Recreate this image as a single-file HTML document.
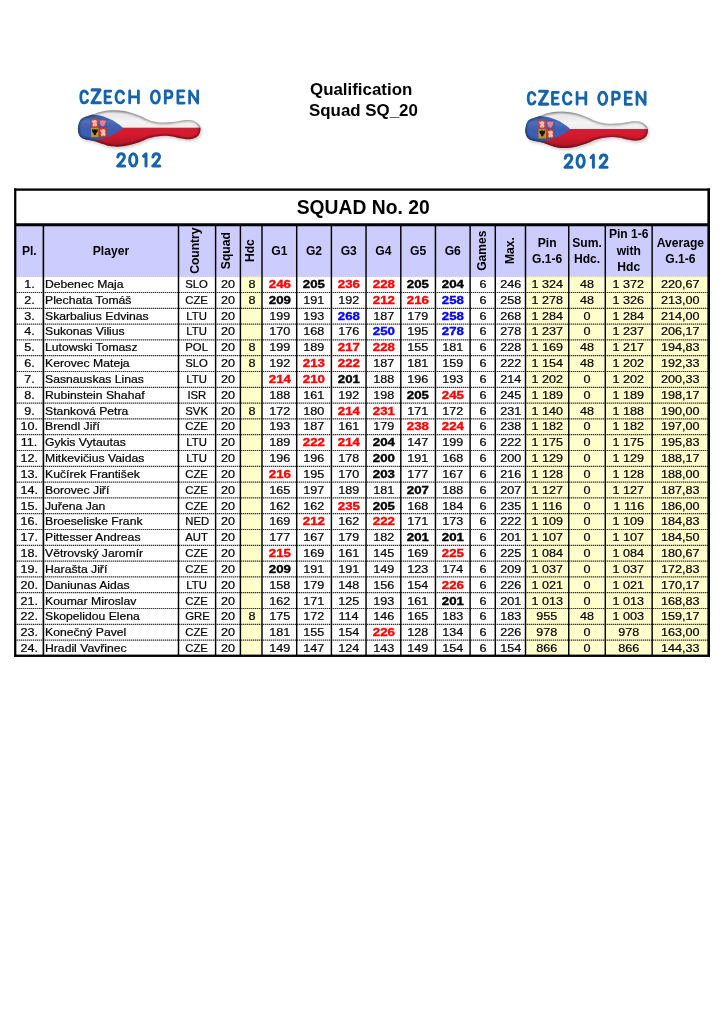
<!DOCTYPE html>
<html><head><meta charset="utf-8"><title>Qualification Squad SQ_20</title>
<style>
html,body{margin:0;padding:0;background:#fff;}
body{width:724px;height:1024px;position:relative;overflow:hidden;font-family:"Liberation Sans",sans-serif;color:#000;}
.abs{position:absolute;}
.c{position:absolute;text-align:center;white-space:nowrap;font-size:10.6px;height:15.8px;line-height:15.8px;overflow:visible;}
.c span{display:inline-block;transform:scaleX(1.19);transform-origin:50% 50%;}
.c.l{text-align:left;}
.c.l span{transform-origin:0 50%;}
.c.n span{transform:scaleX(1.15);}
.c.t span{transform:scaleX(1.07);}
.c span{-webkit-text-stroke:0.2px currentColor;}
.c.b span{font-weight:bold;transform:scaleX(1.25);-webkit-text-stroke:0.35px currentColor;}
.c.r span{color:#ff0000;}
.c.u span{color:#0000ff;}
.h{position:absolute;text-align:center;font-weight:bold;font-size:12.1px;line-height:16.5px;white-space:nowrap;display:flex;align-items:center;justify-content:center;}
.h .rot{display:inline-block;}
.bg{position:absolute;}
#title{position:absolute;left:16.2px;width:694px;top:190.5px;height:34px;line-height:34px;text-align:center;font-weight:bold;font-size:19.3px;white-space:nowrap;}
#q{position:absolute;left:310px;top:78.5px;font-weight:bold;font-size:16.9px;line-height:21.6px;white-space:nowrap;}
#q div{position:relative;}
#wrap{position:absolute;left:0;top:0;width:724px;height:1024px;will-change:transform;}
svg{position:absolute;left:0;top:0;}
</style></head><body><div id="wrap">

<svg width="724" height="1024" viewBox="0 0 724 1024">
<rect x="15.20" y="224.75" width="693.50" height="51.70" fill="#ccccff"/>
<rect x="240.40" y="276.45" width="21.60" height="379.45" fill="#ffffcc"/>
<rect x="525.50" y="276.45" width="183.20" height="379.45" fill="#ffffcc"/>
</svg>
<div id="q"><div>Qualification</div><div style="left:-1px">Squad SQ_20</div></div>
<div id="title">SQUAD No. 20</div>
<div class="h" style="left:15.20px;width:28.20px;top:225.75px;height:50.95px"><span>Pl.</span></div>
<div class="h" style="left:43.40px;width:135.10px;top:225.75px;height:50.95px"><span>Player</span></div>
<div class="h" style="left:178.50px;width:37.10px;top:225.75px;height:50.95px"><span class="rot" style="transform:translate(-1.8px,-0.6px) rotate(-90deg)">Country</span></div>
<div class="h" style="left:215.60px;width:24.80px;top:225.75px;height:50.95px"><span class="rot" style="transform:translate(-2.0px,-0.6px) rotate(-90deg)">Squad</span></div>
<div class="h" style="left:240.40px;width:21.60px;top:225.75px;height:50.95px"><span class="rot" style="transform:translate(-0.8px,-0.6px) rotate(-90deg)">Hdc</span></div>
<div class="h" style="left:262.00px;width:34.70px;top:225.75px;height:50.95px"><span>G1</span></div>
<div class="h" style="left:296.70px;width:34.70px;top:225.75px;height:50.95px"><span>G2</span></div>
<div class="h" style="left:331.40px;width:34.65px;top:225.75px;height:50.95px"><span>G3</span></div>
<div class="h" style="left:366.05px;width:34.75px;top:225.75px;height:50.95px"><span>G4</span></div>
<div class="h" style="left:400.80px;width:34.65px;top:225.75px;height:50.95px"><span>G5</span></div>
<div class="h" style="left:435.45px;width:34.65px;top:225.75px;height:50.95px"><span>G6</span></div>
<div class="h" style="left:470.10px;width:25.20px;top:225.75px;height:50.95px"><span class="rot" style="transform:translate(-0.8px,-0.6px) rotate(-90deg)">Games</span></div>
<div class="h" style="left:495.30px;width:30.20px;top:225.75px;height:50.95px"><span class="rot" style="transform:translate(-0.3px,-0.6px) rotate(-90deg)">Max.</span></div>
<div class="h" style="left:525.50px;width:43.25px;top:225.75px;height:50.95px"><span>Pin<br>G.1-6</span></div>
<div class="h" style="left:568.75px;width:36.55px;top:225.75px;height:50.95px"><span>Sum.<br>Hdc.</span></div>
<div class="h" style="left:605.30px;width:46.85px;top:225.75px;height:50.95px"><span>Pin 1-6<br>with<br>Hdc</span></div>
<div class="h" style="left:652.15px;width:56.55px;top:225.75px;height:50.95px"><span>Average<br>G.1-6</span></div>
<div class="c " style="left:15.20px;width:28.20px;top:277.00px"><span>1.</span></div>
<div class="c l n" style="left:45.40px;width:133.10px;top:277.00px"><span>Debenec Maja</span></div>
<div class="c t" style="left:178.50px;width:37.10px;top:277.00px"><span>SLO</span></div>
<div class="c " style="left:215.60px;width:24.80px;top:277.00px"><span>20</span></div>
<div class="c " style="left:241.30px;width:21.60px;top:277.00px"><span>8</span></div>
<div class="c b r" style="left:262.00px;width:34.70px;top:277.00px"><span>246</span></div>
<div class="c b" style="left:296.70px;width:34.70px;top:277.00px"><span>205</span></div>
<div class="c b r" style="left:331.40px;width:34.65px;top:277.00px"><span>236</span></div>
<div class="c b r" style="left:366.05px;width:34.75px;top:277.00px"><span>228</span></div>
<div class="c b" style="left:400.80px;width:34.65px;top:277.00px"><span>205</span></div>
<div class="c b" style="left:435.45px;width:34.65px;top:277.00px"><span>204</span></div>
<div class="c " style="left:470.10px;width:25.20px;top:277.00px"><span>6</span></div>
<div class="c " style="left:495.30px;width:30.20px;top:277.00px"><span>246</span></div>
<div class="c " style="left:525.50px;width:43.25px;top:277.00px"><span>1 324</span></div>
<div class="c " style="left:568.75px;width:36.55px;top:277.00px"><span>48</span></div>
<div class="c " style="left:605.30px;width:46.85px;top:277.00px"><span>1 372</span></div>
<div class="c " style="left:652.15px;width:56.55px;top:277.00px"><span>220,67</span></div>
<div class="c " style="left:15.20px;width:28.20px;top:292.83px"><span>2.</span></div>
<div class="c l n" style="left:45.40px;width:133.10px;top:292.83px"><span>Plechata Tomáš</span></div>
<div class="c t" style="left:178.50px;width:37.10px;top:292.83px"><span>CZE</span></div>
<div class="c " style="left:215.60px;width:24.80px;top:292.83px"><span>20</span></div>
<div class="c " style="left:241.30px;width:21.60px;top:292.83px"><span>8</span></div>
<div class="c b" style="left:262.00px;width:34.70px;top:292.83px"><span>209</span></div>
<div class="c " style="left:296.70px;width:34.70px;top:292.83px"><span>191</span></div>
<div class="c " style="left:331.40px;width:34.65px;top:292.83px"><span>192</span></div>
<div class="c b r" style="left:366.05px;width:34.75px;top:292.83px"><span>212</span></div>
<div class="c b r" style="left:400.80px;width:34.65px;top:292.83px"><span>216</span></div>
<div class="c b u" style="left:435.45px;width:34.65px;top:292.83px"><span>258</span></div>
<div class="c " style="left:470.10px;width:25.20px;top:292.83px"><span>6</span></div>
<div class="c " style="left:495.30px;width:30.20px;top:292.83px"><span>258</span></div>
<div class="c " style="left:525.50px;width:43.25px;top:292.83px"><span>1 278</span></div>
<div class="c " style="left:568.75px;width:36.55px;top:292.83px"><span>48</span></div>
<div class="c " style="left:605.30px;width:46.85px;top:292.83px"><span>1 326</span></div>
<div class="c " style="left:652.15px;width:56.55px;top:292.83px"><span>213,00</span></div>
<div class="c " style="left:15.20px;width:28.20px;top:308.66px"><span>3.</span></div>
<div class="c l n" style="left:45.40px;width:133.10px;top:308.66px"><span>Skarbalius Edvinas</span></div>
<div class="c t" style="left:178.50px;width:37.10px;top:308.66px"><span>LTU</span></div>
<div class="c " style="left:215.60px;width:24.80px;top:308.66px"><span>20</span></div>
<div class="c " style="left:262.00px;width:34.70px;top:308.66px"><span>199</span></div>
<div class="c " style="left:296.70px;width:34.70px;top:308.66px"><span>193</span></div>
<div class="c b u" style="left:331.40px;width:34.65px;top:308.66px"><span>268</span></div>
<div class="c " style="left:366.05px;width:34.75px;top:308.66px"><span>187</span></div>
<div class="c " style="left:400.80px;width:34.65px;top:308.66px"><span>179</span></div>
<div class="c b u" style="left:435.45px;width:34.65px;top:308.66px"><span>258</span></div>
<div class="c " style="left:470.10px;width:25.20px;top:308.66px"><span>6</span></div>
<div class="c " style="left:495.30px;width:30.20px;top:308.66px"><span>268</span></div>
<div class="c " style="left:525.50px;width:43.25px;top:308.66px"><span>1 284</span></div>
<div class="c " style="left:568.75px;width:36.55px;top:308.66px"><span>0</span></div>
<div class="c " style="left:605.30px;width:46.85px;top:308.66px"><span>1 284</span></div>
<div class="c " style="left:652.15px;width:56.55px;top:308.66px"><span>214,00</span></div>
<div class="c " style="left:15.20px;width:28.20px;top:324.49px"><span>4.</span></div>
<div class="c l n" style="left:45.40px;width:133.10px;top:324.49px"><span>Sukonas Vilius</span></div>
<div class="c t" style="left:178.50px;width:37.10px;top:324.49px"><span>LTU</span></div>
<div class="c " style="left:215.60px;width:24.80px;top:324.49px"><span>20</span></div>
<div class="c " style="left:262.00px;width:34.70px;top:324.49px"><span>170</span></div>
<div class="c " style="left:296.70px;width:34.70px;top:324.49px"><span>168</span></div>
<div class="c " style="left:331.40px;width:34.65px;top:324.49px"><span>176</span></div>
<div class="c b u" style="left:366.05px;width:34.75px;top:324.49px"><span>250</span></div>
<div class="c " style="left:400.80px;width:34.65px;top:324.49px"><span>195</span></div>
<div class="c b u" style="left:435.45px;width:34.65px;top:324.49px"><span>278</span></div>
<div class="c " style="left:470.10px;width:25.20px;top:324.49px"><span>6</span></div>
<div class="c " style="left:495.30px;width:30.20px;top:324.49px"><span>278</span></div>
<div class="c " style="left:525.50px;width:43.25px;top:324.49px"><span>1 237</span></div>
<div class="c " style="left:568.75px;width:36.55px;top:324.49px"><span>0</span></div>
<div class="c " style="left:605.30px;width:46.85px;top:324.49px"><span>1 237</span></div>
<div class="c " style="left:652.15px;width:56.55px;top:324.49px"><span>206,17</span></div>
<div class="c " style="left:15.20px;width:28.20px;top:340.32px"><span>5.</span></div>
<div class="c l n" style="left:45.40px;width:133.10px;top:340.32px"><span>Lutowski Tomasz</span></div>
<div class="c t" style="left:178.50px;width:37.10px;top:340.32px"><span>POL</span></div>
<div class="c " style="left:215.60px;width:24.80px;top:340.32px"><span>20</span></div>
<div class="c " style="left:241.30px;width:21.60px;top:340.32px"><span>8</span></div>
<div class="c " style="left:262.00px;width:34.70px;top:340.32px"><span>199</span></div>
<div class="c " style="left:296.70px;width:34.70px;top:340.32px"><span>189</span></div>
<div class="c b r" style="left:331.40px;width:34.65px;top:340.32px"><span>217</span></div>
<div class="c b r" style="left:366.05px;width:34.75px;top:340.32px"><span>228</span></div>
<div class="c " style="left:400.80px;width:34.65px;top:340.32px"><span>155</span></div>
<div class="c " style="left:435.45px;width:34.65px;top:340.32px"><span>181</span></div>
<div class="c " style="left:470.10px;width:25.20px;top:340.32px"><span>6</span></div>
<div class="c " style="left:495.30px;width:30.20px;top:340.32px"><span>228</span></div>
<div class="c " style="left:525.50px;width:43.25px;top:340.32px"><span>1 169</span></div>
<div class="c " style="left:568.75px;width:36.55px;top:340.32px"><span>48</span></div>
<div class="c " style="left:605.30px;width:46.85px;top:340.32px"><span>1 217</span></div>
<div class="c " style="left:652.15px;width:56.55px;top:340.32px"><span>194,83</span></div>
<div class="c " style="left:15.20px;width:28.20px;top:356.15px"><span>6.</span></div>
<div class="c l n" style="left:45.40px;width:133.10px;top:356.15px"><span>Kerovec Mateja</span></div>
<div class="c t" style="left:178.50px;width:37.10px;top:356.15px"><span>SLO</span></div>
<div class="c " style="left:215.60px;width:24.80px;top:356.15px"><span>20</span></div>
<div class="c " style="left:241.30px;width:21.60px;top:356.15px"><span>8</span></div>
<div class="c " style="left:262.00px;width:34.70px;top:356.15px"><span>192</span></div>
<div class="c b r" style="left:296.70px;width:34.70px;top:356.15px"><span>213</span></div>
<div class="c b r" style="left:331.40px;width:34.65px;top:356.15px"><span>222</span></div>
<div class="c " style="left:366.05px;width:34.75px;top:356.15px"><span>187</span></div>
<div class="c " style="left:400.80px;width:34.65px;top:356.15px"><span>181</span></div>
<div class="c " style="left:435.45px;width:34.65px;top:356.15px"><span>159</span></div>
<div class="c " style="left:470.10px;width:25.20px;top:356.15px"><span>6</span></div>
<div class="c " style="left:495.30px;width:30.20px;top:356.15px"><span>222</span></div>
<div class="c " style="left:525.50px;width:43.25px;top:356.15px"><span>1 154</span></div>
<div class="c " style="left:568.75px;width:36.55px;top:356.15px"><span>48</span></div>
<div class="c " style="left:605.30px;width:46.85px;top:356.15px"><span>1 202</span></div>
<div class="c " style="left:652.15px;width:56.55px;top:356.15px"><span>192,33</span></div>
<div class="c " style="left:15.20px;width:28.20px;top:371.98px"><span>7.</span></div>
<div class="c l n" style="left:45.40px;width:133.10px;top:371.98px"><span>Sasnauskas Linas</span></div>
<div class="c t" style="left:178.50px;width:37.10px;top:371.98px"><span>LTU</span></div>
<div class="c " style="left:215.60px;width:24.80px;top:371.98px"><span>20</span></div>
<div class="c b r" style="left:262.00px;width:34.70px;top:371.98px"><span>214</span></div>
<div class="c b r" style="left:296.70px;width:34.70px;top:371.98px"><span>210</span></div>
<div class="c b" style="left:331.40px;width:34.65px;top:371.98px"><span>201</span></div>
<div class="c " style="left:366.05px;width:34.75px;top:371.98px"><span>188</span></div>
<div class="c " style="left:400.80px;width:34.65px;top:371.98px"><span>196</span></div>
<div class="c " style="left:435.45px;width:34.65px;top:371.98px"><span>193</span></div>
<div class="c " style="left:470.10px;width:25.20px;top:371.98px"><span>6</span></div>
<div class="c " style="left:495.30px;width:30.20px;top:371.98px"><span>214</span></div>
<div class="c " style="left:525.50px;width:43.25px;top:371.98px"><span>1 202</span></div>
<div class="c " style="left:568.75px;width:36.55px;top:371.98px"><span>0</span></div>
<div class="c " style="left:605.30px;width:46.85px;top:371.98px"><span>1 202</span></div>
<div class="c " style="left:652.15px;width:56.55px;top:371.98px"><span>200,33</span></div>
<div class="c " style="left:15.20px;width:28.20px;top:387.81px"><span>8.</span></div>
<div class="c l n" style="left:45.40px;width:133.10px;top:387.81px"><span>Rubinstein Shahaf</span></div>
<div class="c t" style="left:178.50px;width:37.10px;top:387.81px"><span>ISR</span></div>
<div class="c " style="left:215.60px;width:24.80px;top:387.81px"><span>20</span></div>
<div class="c " style="left:262.00px;width:34.70px;top:387.81px"><span>188</span></div>
<div class="c " style="left:296.70px;width:34.70px;top:387.81px"><span>161</span></div>
<div class="c " style="left:331.40px;width:34.65px;top:387.81px"><span>192</span></div>
<div class="c " style="left:366.05px;width:34.75px;top:387.81px"><span>198</span></div>
<div class="c b" style="left:400.80px;width:34.65px;top:387.81px"><span>205</span></div>
<div class="c b r" style="left:435.45px;width:34.65px;top:387.81px"><span>245</span></div>
<div class="c " style="left:470.10px;width:25.20px;top:387.81px"><span>6</span></div>
<div class="c " style="left:495.30px;width:30.20px;top:387.81px"><span>245</span></div>
<div class="c " style="left:525.50px;width:43.25px;top:387.81px"><span>1 189</span></div>
<div class="c " style="left:568.75px;width:36.55px;top:387.81px"><span>0</span></div>
<div class="c " style="left:605.30px;width:46.85px;top:387.81px"><span>1 189</span></div>
<div class="c " style="left:652.15px;width:56.55px;top:387.81px"><span>198,17</span></div>
<div class="c " style="left:15.20px;width:28.20px;top:403.64px"><span>9.</span></div>
<div class="c l n" style="left:45.40px;width:133.10px;top:403.64px"><span>Stanková Petra</span></div>
<div class="c t" style="left:178.50px;width:37.10px;top:403.64px"><span>SVK</span></div>
<div class="c " style="left:215.60px;width:24.80px;top:403.64px"><span>20</span></div>
<div class="c " style="left:241.30px;width:21.60px;top:403.64px"><span>8</span></div>
<div class="c " style="left:262.00px;width:34.70px;top:403.64px"><span>172</span></div>
<div class="c " style="left:296.70px;width:34.70px;top:403.64px"><span>180</span></div>
<div class="c b r" style="left:331.40px;width:34.65px;top:403.64px"><span>214</span></div>
<div class="c b r" style="left:366.05px;width:34.75px;top:403.64px"><span>231</span></div>
<div class="c " style="left:400.80px;width:34.65px;top:403.64px"><span>171</span></div>
<div class="c " style="left:435.45px;width:34.65px;top:403.64px"><span>172</span></div>
<div class="c " style="left:470.10px;width:25.20px;top:403.64px"><span>6</span></div>
<div class="c " style="left:495.30px;width:30.20px;top:403.64px"><span>231</span></div>
<div class="c " style="left:525.50px;width:43.25px;top:403.64px"><span>1 140</span></div>
<div class="c " style="left:568.75px;width:36.55px;top:403.64px"><span>48</span></div>
<div class="c " style="left:605.30px;width:46.85px;top:403.64px"><span>1 188</span></div>
<div class="c " style="left:652.15px;width:56.55px;top:403.64px"><span>190,00</span></div>
<div class="c " style="left:15.20px;width:28.20px;top:419.47px"><span>10.</span></div>
<div class="c l n" style="left:45.40px;width:133.10px;top:419.47px"><span>Brendl Jiří</span></div>
<div class="c t" style="left:178.50px;width:37.10px;top:419.47px"><span>CZE</span></div>
<div class="c " style="left:215.60px;width:24.80px;top:419.47px"><span>20</span></div>
<div class="c " style="left:262.00px;width:34.70px;top:419.47px"><span>193</span></div>
<div class="c " style="left:296.70px;width:34.70px;top:419.47px"><span>187</span></div>
<div class="c " style="left:331.40px;width:34.65px;top:419.47px"><span>161</span></div>
<div class="c " style="left:366.05px;width:34.75px;top:419.47px"><span>179</span></div>
<div class="c b r" style="left:400.80px;width:34.65px;top:419.47px"><span>238</span></div>
<div class="c b r" style="left:435.45px;width:34.65px;top:419.47px"><span>224</span></div>
<div class="c " style="left:470.10px;width:25.20px;top:419.47px"><span>6</span></div>
<div class="c " style="left:495.30px;width:30.20px;top:419.47px"><span>238</span></div>
<div class="c " style="left:525.50px;width:43.25px;top:419.47px"><span>1 182</span></div>
<div class="c " style="left:568.75px;width:36.55px;top:419.47px"><span>0</span></div>
<div class="c " style="left:605.30px;width:46.85px;top:419.47px"><span>1 182</span></div>
<div class="c " style="left:652.15px;width:56.55px;top:419.47px"><span>197,00</span></div>
<div class="c " style="left:15.20px;width:28.20px;top:435.30px"><span>11.</span></div>
<div class="c l n" style="left:45.40px;width:133.10px;top:435.30px"><span>Gykis Vytautas</span></div>
<div class="c t" style="left:178.50px;width:37.10px;top:435.30px"><span>LTU</span></div>
<div class="c " style="left:215.60px;width:24.80px;top:435.30px"><span>20</span></div>
<div class="c " style="left:262.00px;width:34.70px;top:435.30px"><span>189</span></div>
<div class="c b r" style="left:296.70px;width:34.70px;top:435.30px"><span>222</span></div>
<div class="c b r" style="left:331.40px;width:34.65px;top:435.30px"><span>214</span></div>
<div class="c b" style="left:366.05px;width:34.75px;top:435.30px"><span>204</span></div>
<div class="c " style="left:400.80px;width:34.65px;top:435.30px"><span>147</span></div>
<div class="c " style="left:435.45px;width:34.65px;top:435.30px"><span>199</span></div>
<div class="c " style="left:470.10px;width:25.20px;top:435.30px"><span>6</span></div>
<div class="c " style="left:495.30px;width:30.20px;top:435.30px"><span>222</span></div>
<div class="c " style="left:525.50px;width:43.25px;top:435.30px"><span>1 175</span></div>
<div class="c " style="left:568.75px;width:36.55px;top:435.30px"><span>0</span></div>
<div class="c " style="left:605.30px;width:46.85px;top:435.30px"><span>1 175</span></div>
<div class="c " style="left:652.15px;width:56.55px;top:435.30px"><span>195,83</span></div>
<div class="c " style="left:15.20px;width:28.20px;top:451.13px"><span>12.</span></div>
<div class="c l n" style="left:45.40px;width:133.10px;top:451.13px"><span>Mitkevičius Vaidas</span></div>
<div class="c t" style="left:178.50px;width:37.10px;top:451.13px"><span>LTU</span></div>
<div class="c " style="left:215.60px;width:24.80px;top:451.13px"><span>20</span></div>
<div class="c " style="left:262.00px;width:34.70px;top:451.13px"><span>196</span></div>
<div class="c " style="left:296.70px;width:34.70px;top:451.13px"><span>196</span></div>
<div class="c " style="left:331.40px;width:34.65px;top:451.13px"><span>178</span></div>
<div class="c b" style="left:366.05px;width:34.75px;top:451.13px"><span>200</span></div>
<div class="c " style="left:400.80px;width:34.65px;top:451.13px"><span>191</span></div>
<div class="c " style="left:435.45px;width:34.65px;top:451.13px"><span>168</span></div>
<div class="c " style="left:470.10px;width:25.20px;top:451.13px"><span>6</span></div>
<div class="c " style="left:495.30px;width:30.20px;top:451.13px"><span>200</span></div>
<div class="c " style="left:525.50px;width:43.25px;top:451.13px"><span>1 129</span></div>
<div class="c " style="left:568.75px;width:36.55px;top:451.13px"><span>0</span></div>
<div class="c " style="left:605.30px;width:46.85px;top:451.13px"><span>1 129</span></div>
<div class="c " style="left:652.15px;width:56.55px;top:451.13px"><span>188,17</span></div>
<div class="c " style="left:15.20px;width:28.20px;top:466.96px"><span>13.</span></div>
<div class="c l n" style="left:45.40px;width:133.10px;top:466.96px"><span>Kučírek František</span></div>
<div class="c t" style="left:178.50px;width:37.10px;top:466.96px"><span>CZE</span></div>
<div class="c " style="left:215.60px;width:24.80px;top:466.96px"><span>20</span></div>
<div class="c b r" style="left:262.00px;width:34.70px;top:466.96px"><span>216</span></div>
<div class="c " style="left:296.70px;width:34.70px;top:466.96px"><span>195</span></div>
<div class="c " style="left:331.40px;width:34.65px;top:466.96px"><span>170</span></div>
<div class="c b" style="left:366.05px;width:34.75px;top:466.96px"><span>203</span></div>
<div class="c " style="left:400.80px;width:34.65px;top:466.96px"><span>177</span></div>
<div class="c " style="left:435.45px;width:34.65px;top:466.96px"><span>167</span></div>
<div class="c " style="left:470.10px;width:25.20px;top:466.96px"><span>6</span></div>
<div class="c " style="left:495.30px;width:30.20px;top:466.96px"><span>216</span></div>
<div class="c " style="left:525.50px;width:43.25px;top:466.96px"><span>1 128</span></div>
<div class="c " style="left:568.75px;width:36.55px;top:466.96px"><span>0</span></div>
<div class="c " style="left:605.30px;width:46.85px;top:466.96px"><span>1 128</span></div>
<div class="c " style="left:652.15px;width:56.55px;top:466.96px"><span>188,00</span></div>
<div class="c " style="left:15.20px;width:28.20px;top:482.79px"><span>14.</span></div>
<div class="c l n" style="left:45.40px;width:133.10px;top:482.79px"><span>Borovec Jiří</span></div>
<div class="c t" style="left:178.50px;width:37.10px;top:482.79px"><span>CZE</span></div>
<div class="c " style="left:215.60px;width:24.80px;top:482.79px"><span>20</span></div>
<div class="c " style="left:262.00px;width:34.70px;top:482.79px"><span>165</span></div>
<div class="c " style="left:296.70px;width:34.70px;top:482.79px"><span>197</span></div>
<div class="c " style="left:331.40px;width:34.65px;top:482.79px"><span>189</span></div>
<div class="c " style="left:366.05px;width:34.75px;top:482.79px"><span>181</span></div>
<div class="c b" style="left:400.80px;width:34.65px;top:482.79px"><span>207</span></div>
<div class="c " style="left:435.45px;width:34.65px;top:482.79px"><span>188</span></div>
<div class="c " style="left:470.10px;width:25.20px;top:482.79px"><span>6</span></div>
<div class="c " style="left:495.30px;width:30.20px;top:482.79px"><span>207</span></div>
<div class="c " style="left:525.50px;width:43.25px;top:482.79px"><span>1 127</span></div>
<div class="c " style="left:568.75px;width:36.55px;top:482.79px"><span>0</span></div>
<div class="c " style="left:605.30px;width:46.85px;top:482.79px"><span>1 127</span></div>
<div class="c " style="left:652.15px;width:56.55px;top:482.79px"><span>187,83</span></div>
<div class="c " style="left:15.20px;width:28.20px;top:498.62px"><span>15.</span></div>
<div class="c l n" style="left:45.40px;width:133.10px;top:498.62px"><span>Juřena Jan</span></div>
<div class="c t" style="left:178.50px;width:37.10px;top:498.62px"><span>CZE</span></div>
<div class="c " style="left:215.60px;width:24.80px;top:498.62px"><span>20</span></div>
<div class="c " style="left:262.00px;width:34.70px;top:498.62px"><span>162</span></div>
<div class="c " style="left:296.70px;width:34.70px;top:498.62px"><span>162</span></div>
<div class="c b r" style="left:331.40px;width:34.65px;top:498.62px"><span>235</span></div>
<div class="c b" style="left:366.05px;width:34.75px;top:498.62px"><span>205</span></div>
<div class="c " style="left:400.80px;width:34.65px;top:498.62px"><span>168</span></div>
<div class="c " style="left:435.45px;width:34.65px;top:498.62px"><span>184</span></div>
<div class="c " style="left:470.10px;width:25.20px;top:498.62px"><span>6</span></div>
<div class="c " style="left:495.30px;width:30.20px;top:498.62px"><span>235</span></div>
<div class="c " style="left:525.50px;width:43.25px;top:498.62px"><span>1 116</span></div>
<div class="c " style="left:568.75px;width:36.55px;top:498.62px"><span>0</span></div>
<div class="c " style="left:605.30px;width:46.85px;top:498.62px"><span>1 116</span></div>
<div class="c " style="left:652.15px;width:56.55px;top:498.62px"><span>186,00</span></div>
<div class="c " style="left:15.20px;width:28.20px;top:514.45px"><span>16.</span></div>
<div class="c l n" style="left:45.40px;width:133.10px;top:514.45px"><span>Broeseliske Frank</span></div>
<div class="c t" style="left:178.50px;width:37.10px;top:514.45px"><span>NED</span></div>
<div class="c " style="left:215.60px;width:24.80px;top:514.45px"><span>20</span></div>
<div class="c " style="left:262.00px;width:34.70px;top:514.45px"><span>169</span></div>
<div class="c b r" style="left:296.70px;width:34.70px;top:514.45px"><span>212</span></div>
<div class="c " style="left:331.40px;width:34.65px;top:514.45px"><span>162</span></div>
<div class="c b r" style="left:366.05px;width:34.75px;top:514.45px"><span>222</span></div>
<div class="c " style="left:400.80px;width:34.65px;top:514.45px"><span>171</span></div>
<div class="c " style="left:435.45px;width:34.65px;top:514.45px"><span>173</span></div>
<div class="c " style="left:470.10px;width:25.20px;top:514.45px"><span>6</span></div>
<div class="c " style="left:495.30px;width:30.20px;top:514.45px"><span>222</span></div>
<div class="c " style="left:525.50px;width:43.25px;top:514.45px"><span>1 109</span></div>
<div class="c " style="left:568.75px;width:36.55px;top:514.45px"><span>0</span></div>
<div class="c " style="left:605.30px;width:46.85px;top:514.45px"><span>1 109</span></div>
<div class="c " style="left:652.15px;width:56.55px;top:514.45px"><span>184,83</span></div>
<div class="c " style="left:15.20px;width:28.20px;top:530.28px"><span>17.</span></div>
<div class="c l n" style="left:45.40px;width:133.10px;top:530.28px"><span>Pittesser Andreas</span></div>
<div class="c t" style="left:178.50px;width:37.10px;top:530.28px"><span>AUT</span></div>
<div class="c " style="left:215.60px;width:24.80px;top:530.28px"><span>20</span></div>
<div class="c " style="left:262.00px;width:34.70px;top:530.28px"><span>177</span></div>
<div class="c " style="left:296.70px;width:34.70px;top:530.28px"><span>167</span></div>
<div class="c " style="left:331.40px;width:34.65px;top:530.28px"><span>179</span></div>
<div class="c " style="left:366.05px;width:34.75px;top:530.28px"><span>182</span></div>
<div class="c b" style="left:400.80px;width:34.65px;top:530.28px"><span>201</span></div>
<div class="c b" style="left:435.45px;width:34.65px;top:530.28px"><span>201</span></div>
<div class="c " style="left:470.10px;width:25.20px;top:530.28px"><span>6</span></div>
<div class="c " style="left:495.30px;width:30.20px;top:530.28px"><span>201</span></div>
<div class="c " style="left:525.50px;width:43.25px;top:530.28px"><span>1 107</span></div>
<div class="c " style="left:568.75px;width:36.55px;top:530.28px"><span>0</span></div>
<div class="c " style="left:605.30px;width:46.85px;top:530.28px"><span>1 107</span></div>
<div class="c " style="left:652.15px;width:56.55px;top:530.28px"><span>184,50</span></div>
<div class="c " style="left:15.20px;width:28.20px;top:546.11px"><span>18.</span></div>
<div class="c l n" style="left:45.40px;width:133.10px;top:546.11px"><span>Větrovský Jaromír</span></div>
<div class="c t" style="left:178.50px;width:37.10px;top:546.11px"><span>CZE</span></div>
<div class="c " style="left:215.60px;width:24.80px;top:546.11px"><span>20</span></div>
<div class="c b r" style="left:262.00px;width:34.70px;top:546.11px"><span>215</span></div>
<div class="c " style="left:296.70px;width:34.70px;top:546.11px"><span>169</span></div>
<div class="c " style="left:331.40px;width:34.65px;top:546.11px"><span>161</span></div>
<div class="c " style="left:366.05px;width:34.75px;top:546.11px"><span>145</span></div>
<div class="c " style="left:400.80px;width:34.65px;top:546.11px"><span>169</span></div>
<div class="c b r" style="left:435.45px;width:34.65px;top:546.11px"><span>225</span></div>
<div class="c " style="left:470.10px;width:25.20px;top:546.11px"><span>6</span></div>
<div class="c " style="left:495.30px;width:30.20px;top:546.11px"><span>225</span></div>
<div class="c " style="left:525.50px;width:43.25px;top:546.11px"><span>1 084</span></div>
<div class="c " style="left:568.75px;width:36.55px;top:546.11px"><span>0</span></div>
<div class="c " style="left:605.30px;width:46.85px;top:546.11px"><span>1 084</span></div>
<div class="c " style="left:652.15px;width:56.55px;top:546.11px"><span>180,67</span></div>
<div class="c " style="left:15.20px;width:28.20px;top:561.94px"><span>19.</span></div>
<div class="c l n" style="left:45.40px;width:133.10px;top:561.94px"><span>Harašta Jiří</span></div>
<div class="c t" style="left:178.50px;width:37.10px;top:561.94px"><span>CZE</span></div>
<div class="c " style="left:215.60px;width:24.80px;top:561.94px"><span>20</span></div>
<div class="c b" style="left:262.00px;width:34.70px;top:561.94px"><span>209</span></div>
<div class="c " style="left:296.70px;width:34.70px;top:561.94px"><span>191</span></div>
<div class="c " style="left:331.40px;width:34.65px;top:561.94px"><span>191</span></div>
<div class="c " style="left:366.05px;width:34.75px;top:561.94px"><span>149</span></div>
<div class="c " style="left:400.80px;width:34.65px;top:561.94px"><span>123</span></div>
<div class="c " style="left:435.45px;width:34.65px;top:561.94px"><span>174</span></div>
<div class="c " style="left:470.10px;width:25.20px;top:561.94px"><span>6</span></div>
<div class="c " style="left:495.30px;width:30.20px;top:561.94px"><span>209</span></div>
<div class="c " style="left:525.50px;width:43.25px;top:561.94px"><span>1 037</span></div>
<div class="c " style="left:568.75px;width:36.55px;top:561.94px"><span>0</span></div>
<div class="c " style="left:605.30px;width:46.85px;top:561.94px"><span>1 037</span></div>
<div class="c " style="left:652.15px;width:56.55px;top:561.94px"><span>172,83</span></div>
<div class="c " style="left:15.20px;width:28.20px;top:577.77px"><span>20.</span></div>
<div class="c l n" style="left:45.40px;width:133.10px;top:577.77px"><span>Daniunas Aidas</span></div>
<div class="c t" style="left:178.50px;width:37.10px;top:577.77px"><span>LTU</span></div>
<div class="c " style="left:215.60px;width:24.80px;top:577.77px"><span>20</span></div>
<div class="c " style="left:262.00px;width:34.70px;top:577.77px"><span>158</span></div>
<div class="c " style="left:296.70px;width:34.70px;top:577.77px"><span>179</span></div>
<div class="c " style="left:331.40px;width:34.65px;top:577.77px"><span>148</span></div>
<div class="c " style="left:366.05px;width:34.75px;top:577.77px"><span>156</span></div>
<div class="c " style="left:400.80px;width:34.65px;top:577.77px"><span>154</span></div>
<div class="c b r" style="left:435.45px;width:34.65px;top:577.77px"><span>226</span></div>
<div class="c " style="left:470.10px;width:25.20px;top:577.77px"><span>6</span></div>
<div class="c " style="left:495.30px;width:30.20px;top:577.77px"><span>226</span></div>
<div class="c " style="left:525.50px;width:43.25px;top:577.77px"><span>1 021</span></div>
<div class="c " style="left:568.75px;width:36.55px;top:577.77px"><span>0</span></div>
<div class="c " style="left:605.30px;width:46.85px;top:577.77px"><span>1 021</span></div>
<div class="c " style="left:652.15px;width:56.55px;top:577.77px"><span>170,17</span></div>
<div class="c " style="left:15.20px;width:28.20px;top:593.60px"><span>21.</span></div>
<div class="c l n" style="left:45.40px;width:133.10px;top:593.60px"><span>Koumar Miroslav</span></div>
<div class="c t" style="left:178.50px;width:37.10px;top:593.60px"><span>CZE</span></div>
<div class="c " style="left:215.60px;width:24.80px;top:593.60px"><span>20</span></div>
<div class="c " style="left:262.00px;width:34.70px;top:593.60px"><span>162</span></div>
<div class="c " style="left:296.70px;width:34.70px;top:593.60px"><span>171</span></div>
<div class="c " style="left:331.40px;width:34.65px;top:593.60px"><span>125</span></div>
<div class="c " style="left:366.05px;width:34.75px;top:593.60px"><span>193</span></div>
<div class="c " style="left:400.80px;width:34.65px;top:593.60px"><span>161</span></div>
<div class="c b" style="left:435.45px;width:34.65px;top:593.60px"><span>201</span></div>
<div class="c " style="left:470.10px;width:25.20px;top:593.60px"><span>6</span></div>
<div class="c " style="left:495.30px;width:30.20px;top:593.60px"><span>201</span></div>
<div class="c " style="left:525.50px;width:43.25px;top:593.60px"><span>1 013</span></div>
<div class="c " style="left:568.75px;width:36.55px;top:593.60px"><span>0</span></div>
<div class="c " style="left:605.30px;width:46.85px;top:593.60px"><span>1 013</span></div>
<div class="c " style="left:652.15px;width:56.55px;top:593.60px"><span>168,83</span></div>
<div class="c " style="left:15.20px;width:28.20px;top:609.43px"><span>22.</span></div>
<div class="c l n" style="left:45.40px;width:133.10px;top:609.43px"><span>Skopelidou Elena</span></div>
<div class="c t" style="left:178.50px;width:37.10px;top:609.43px"><span>GRE</span></div>
<div class="c " style="left:215.60px;width:24.80px;top:609.43px"><span>20</span></div>
<div class="c " style="left:241.30px;width:21.60px;top:609.43px"><span>8</span></div>
<div class="c " style="left:262.00px;width:34.70px;top:609.43px"><span>175</span></div>
<div class="c " style="left:296.70px;width:34.70px;top:609.43px"><span>172</span></div>
<div class="c " style="left:331.40px;width:34.65px;top:609.43px"><span>114</span></div>
<div class="c " style="left:366.05px;width:34.75px;top:609.43px"><span>146</span></div>
<div class="c " style="left:400.80px;width:34.65px;top:609.43px"><span>165</span></div>
<div class="c " style="left:435.45px;width:34.65px;top:609.43px"><span>183</span></div>
<div class="c " style="left:470.10px;width:25.20px;top:609.43px"><span>6</span></div>
<div class="c " style="left:495.30px;width:30.20px;top:609.43px"><span>183</span></div>
<div class="c " style="left:525.50px;width:43.25px;top:609.43px"><span>955</span></div>
<div class="c " style="left:568.75px;width:36.55px;top:609.43px"><span>48</span></div>
<div class="c " style="left:605.30px;width:46.85px;top:609.43px"><span>1 003</span></div>
<div class="c " style="left:652.15px;width:56.55px;top:609.43px"><span>159,17</span></div>
<div class="c " style="left:15.20px;width:28.20px;top:625.26px"><span>23.</span></div>
<div class="c l n" style="left:45.40px;width:133.10px;top:625.26px"><span>Konečný Pavel</span></div>
<div class="c t" style="left:178.50px;width:37.10px;top:625.26px"><span>CZE</span></div>
<div class="c " style="left:215.60px;width:24.80px;top:625.26px"><span>20</span></div>
<div class="c " style="left:262.00px;width:34.70px;top:625.26px"><span>181</span></div>
<div class="c " style="left:296.70px;width:34.70px;top:625.26px"><span>155</span></div>
<div class="c " style="left:331.40px;width:34.65px;top:625.26px"><span>154</span></div>
<div class="c b r" style="left:366.05px;width:34.75px;top:625.26px"><span>226</span></div>
<div class="c " style="left:400.80px;width:34.65px;top:625.26px"><span>128</span></div>
<div class="c " style="left:435.45px;width:34.65px;top:625.26px"><span>134</span></div>
<div class="c " style="left:470.10px;width:25.20px;top:625.26px"><span>6</span></div>
<div class="c " style="left:495.30px;width:30.20px;top:625.26px"><span>226</span></div>
<div class="c " style="left:525.50px;width:43.25px;top:625.26px"><span>978</span></div>
<div class="c " style="left:568.75px;width:36.55px;top:625.26px"><span>0</span></div>
<div class="c " style="left:605.30px;width:46.85px;top:625.26px"><span>978</span></div>
<div class="c " style="left:652.15px;width:56.55px;top:625.26px"><span>163,00</span></div>
<div class="c " style="left:15.20px;width:28.20px;top:641.09px"><span>24.</span></div>
<div class="c l n" style="left:45.40px;width:133.10px;top:641.09px"><span>Hradil Vavřinec</span></div>
<div class="c t" style="left:178.50px;width:37.10px;top:641.09px"><span>CZE</span></div>
<div class="c " style="left:215.60px;width:24.80px;top:641.09px"><span>20</span></div>
<div class="c " style="left:262.00px;width:34.70px;top:641.09px"><span>149</span></div>
<div class="c " style="left:296.70px;width:34.70px;top:641.09px"><span>147</span></div>
<div class="c " style="left:331.40px;width:34.65px;top:641.09px"><span>124</span></div>
<div class="c " style="left:366.05px;width:34.75px;top:641.09px"><span>143</span></div>
<div class="c " style="left:400.80px;width:34.65px;top:641.09px"><span>149</span></div>
<div class="c " style="left:435.45px;width:34.65px;top:641.09px"><span>154</span></div>
<div class="c " style="left:470.10px;width:25.20px;top:641.09px"><span>6</span></div>
<div class="c " style="left:495.30px;width:30.20px;top:641.09px"><span>154</span></div>
<div class="c " style="left:525.50px;width:43.25px;top:641.09px"><span>866</span></div>
<div class="c " style="left:568.75px;width:36.55px;top:641.09px"><span>0</span></div>
<div class="c " style="left:605.30px;width:46.85px;top:641.09px"><span>866</span></div>
<div class="c " style="left:652.15px;width:56.55px;top:641.09px"><span>144,33</span></div>
<svg width="724" height="1024" viewBox="0 0 724 1024">
<line x1="15.20" x2="708.70" y1="276.70" y2="276.70" stroke="#555" stroke-opacity="0.35" stroke-width="1" stroke-dasharray="1.1 0.9"/>
<line x1="15.20" x2="708.70" y1="292.50" y2="292.50" stroke="#000" stroke-width="1.2" stroke-dasharray="1.1 0.9"/>
<line x1="15.20" x2="708.70" y1="308.30" y2="308.30" stroke="#000" stroke-width="1.2" stroke-dasharray="1.1 0.9"/>
<line x1="15.20" x2="708.70" y1="324.10" y2="324.10" stroke="#000" stroke-width="1.2" stroke-dasharray="1.1 0.9"/>
<line x1="15.20" x2="708.70" y1="339.90" y2="339.90" stroke="#000" stroke-width="1.2" stroke-dasharray="1.1 0.9"/>
<line x1="15.20" x2="708.70" y1="355.70" y2="355.70" stroke="#000" stroke-width="1.2" stroke-dasharray="1.1 0.9"/>
<line x1="15.20" x2="708.70" y1="371.50" y2="371.50" stroke="#000" stroke-width="1.2" stroke-dasharray="1.1 0.9"/>
<line x1="15.20" x2="708.70" y1="387.30" y2="387.30" stroke="#000" stroke-width="1.2" stroke-dasharray="1.1 0.9"/>
<line x1="15.20" x2="708.70" y1="403.10" y2="403.10" stroke="#000" stroke-width="1.2" stroke-dasharray="1.1 0.9"/>
<line x1="15.20" x2="708.70" y1="418.90" y2="418.90" stroke="#000" stroke-width="1.2" stroke-dasharray="1.1 0.9"/>
<line x1="15.20" x2="708.70" y1="434.70" y2="434.70" stroke="#000" stroke-width="1.2" stroke-dasharray="1.1 0.9"/>
<line x1="15.20" x2="708.70" y1="450.50" y2="450.50" stroke="#000" stroke-width="1.2" stroke-dasharray="1.1 0.9"/>
<line x1="15.20" x2="708.70" y1="466.30" y2="466.30" stroke="#000" stroke-width="1.2" stroke-dasharray="1.1 0.9"/>
<line x1="15.20" x2="708.70" y1="482.10" y2="482.10" stroke="#000" stroke-width="1.2" stroke-dasharray="1.1 0.9"/>
<line x1="15.20" x2="708.70" y1="497.90" y2="497.90" stroke="#000" stroke-width="1.2" stroke-dasharray="1.1 0.9"/>
<line x1="15.20" x2="708.70" y1="513.70" y2="513.70" stroke="#000" stroke-width="1.2" stroke-dasharray="1.1 0.9"/>
<line x1="15.20" x2="708.70" y1="529.50" y2="529.50" stroke="#000" stroke-width="1.2" stroke-dasharray="1.1 0.9"/>
<line x1="15.20" x2="708.70" y1="545.30" y2="545.30" stroke="#000" stroke-width="1.2" stroke-dasharray="1.1 0.9"/>
<line x1="15.20" x2="708.70" y1="561.10" y2="561.10" stroke="#000" stroke-width="1.2" stroke-dasharray="1.1 0.9"/>
<line x1="15.20" x2="708.70" y1="576.90" y2="576.90" stroke="#000" stroke-width="1.2" stroke-dasharray="1.1 0.9"/>
<line x1="15.20" x2="708.70" y1="592.70" y2="592.70" stroke="#000" stroke-width="1.2" stroke-dasharray="1.1 0.9"/>
<line x1="15.20" x2="708.70" y1="608.50" y2="608.50" stroke="#000" stroke-width="1.2" stroke-dasharray="1.1 0.9"/>
<line x1="15.20" x2="708.70" y1="624.30" y2="624.30" stroke="#000" stroke-width="1.2" stroke-dasharray="1.1 0.9"/>
<line x1="15.20" x2="708.70" y1="640.10" y2="640.10" stroke="#000" stroke-width="1.2" stroke-dasharray="1.1 0.9"/>
<line x1="43.40" x2="43.40" y1="224.75" y2="655.90" stroke="#000" stroke-width="1.60"/>
<line x1="178.50" x2="178.50" y1="224.75" y2="655.90" stroke="#000" stroke-width="1.45"/>
<line x1="215.60" x2="215.60" y1="224.75" y2="655.90" stroke="#000" stroke-width="1.45"/>
<line x1="240.40" x2="240.40" y1="224.75" y2="655.90" stroke="#000" stroke-width="1.45"/>
<line x1="262.00" x2="262.00" y1="224.75" y2="655.90" stroke="#000" stroke-width="1.45"/>
<line x1="296.70" x2="296.70" y1="224.75" y2="655.90" stroke="#000" stroke-width="1.45"/>
<line x1="331.40" x2="331.40" y1="224.75" y2="655.90" stroke="#000" stroke-width="1.45"/>
<line x1="366.05" x2="366.05" y1="224.75" y2="655.90" stroke="#000" stroke-width="1.45"/>
<line x1="400.80" x2="400.80" y1="224.75" y2="655.90" stroke="#000" stroke-width="1.45"/>
<line x1="435.45" x2="435.45" y1="224.75" y2="655.90" stroke="#000" stroke-width="1.45"/>
<line x1="470.10" x2="470.10" y1="224.75" y2="655.90" stroke="#000" stroke-width="1.45"/>
<line x1="495.30" x2="495.30" y1="224.75" y2="655.90" stroke="#000" stroke-width="1.45"/>
<line x1="525.50" x2="525.50" y1="224.75" y2="655.90" stroke="#000" stroke-width="1.45"/>
<line x1="568.75" x2="568.75" y1="224.75" y2="655.90" stroke="#000" stroke-width="1.45"/>
<line x1="605.30" x2="605.30" y1="224.75" y2="655.90" stroke="#000" stroke-width="1.45"/>
<line x1="652.15" x2="652.15" y1="224.75" y2="655.90" stroke="#000" stroke-width="1.45"/>
<line x1="15.20" x2="708.70" y1="224.75" y2="224.75" stroke="#000" stroke-width="3.1"/>
<rect x="14.10" y="188.45" width="695.90" height="2.30" fill="#000"/>
<rect x="14.10" y="654.60" width="695.90" height="2.35" fill="#000"/>
<rect x="14.10" y="188.45" width="2.25" height="468.50" fill="#000"/>
<rect x="707.40" y="188.45" width="2.60" height="468.50" fill="#000"/>
<defs>
<clipPath id="pinclip"><path id="pinpath" d="M77.90 128.20 C77.98 125.85 78.83 122.68 79.80 120.90 C80.77 119.12 81.60 118.55 83.70 117.50 C85.80 116.45 89.52 115.57 92.40 114.60 C95.28 113.63 97.93 112.42 101.00 111.70 C104.07 110.98 107.68 110.48 110.80 110.30 C113.92 110.12 116.62 110.28 119.70 110.60 C122.78 110.92 126.08 111.37 129.30 112.20 C132.52 113.03 135.77 114.30 139.00 115.60 C142.23 116.90 145.80 118.95 148.70 120.00 C151.60 121.05 153.82 121.50 156.40 121.90 C158.98 122.30 161.45 122.40 164.20 122.40 C166.95 122.40 169.87 122.23 172.90 121.90 C175.93 121.57 179.85 120.72 182.40 120.40 C184.95 120.08 186.27 119.92 188.20 120.00 C190.13 120.08 192.23 120.18 194.00 120.90 C195.77 121.62 197.72 122.93 198.80 124.30 C199.88 125.67 200.50 127.33 200.50 129.10 C200.50 130.87 199.88 133.37 198.80 134.90 C197.72 136.43 195.77 137.57 194.00 138.30 C192.23 139.03 190.47 139.30 188.20 139.30 C185.93 139.30 182.95 138.78 180.40 138.30 C177.85 137.82 175.60 136.83 172.90 136.40 C170.20 135.97 166.95 135.70 164.20 135.70 C161.45 135.70 158.98 135.97 156.40 136.40 C153.82 136.83 151.60 137.33 148.70 138.30 C145.80 139.27 142.23 141.07 139.00 142.20 C135.77 143.33 132.52 144.37 129.30 145.10 C126.08 145.83 122.92 146.43 119.70 146.60 C116.48 146.77 112.78 146.52 110.00 146.10 C107.22 145.68 105.53 144.92 103.00 144.10 C100.47 143.28 98.02 142.08 94.80 141.20 C91.58 140.32 86.28 139.83 83.70 138.80 C81.12 137.77 80.27 136.77 79.30 135.00 C78.33 133.23 77.82 130.55 77.90 128.20 Z"/></clipPath>
<linearGradient id="shade" x1="0" y1="0" x2="0" y2="1">
<stop offset="0" stop-color="#000" stop-opacity="0.28"/>
<stop offset="0.18" stop-color="#000" stop-opacity="0.04"/>
<stop offset="0.35" stop-color="#fff" stop-opacity="0.10"/>
<stop offset="0.6" stop-color="#000" stop-opacity="0"/>
<stop offset="1" stop-color="#000" stop-opacity="0.30"/>
</linearGradient>
<filter id="blur1" x="-10%" y="-30%" width="120%" height="160%"><feGaussianBlur stdDeviation="1.2"/></filter>
<filter id="blur2" x="-10%" y="-30%" width="120%" height="160%"><feGaussianBlur stdDeviation="1.6"/></filter>
<g id="logo">
<use href="#pinpath" transform="translate(1.2,1.8)" fill="#888" opacity="0.45" filter="url(#blur2)"/>
<g clip-path="url(#pinclip)">
<rect x="70" y="105" width="140" height="23" fill="#f4f4f4"/>
<rect x="70" y="127.7" width="140" height="25" fill="#d81a30"/>
<path d="M70 105 L92.4 105 L92.4 114.6 C98 115 102 116 105.9 117.5 C110 119 112 119.8 114.6 121.4 C118 123.5 121 126 123.3 128.2 C120.5 130 118.5 131.4 115.6 133 C112 135 109 136.5 105.9 137.8 C102 139.3 98.5 140.3 94.8 141.2 L94 150 L70 150 Z" fill="#3b5fb3"/>
<rect x="90.6" y="118.7" width="16.4" height="18.9" rx="0.8" fill="#2a3f80" opacity="0.6"/>
<rect x="90.9" y="119" width="7.8" height="8.8" fill="#d23822"/>
<rect x="98.7" y="119" width="8.0" height="8.8" fill="#5a4a92"/>
<rect x="90.9" y="127.8" width="7.8" height="9.5" fill="#c4962a"/>
<rect x="98.7" y="127.8" width="8.0" height="9.5" fill="#d23822"/>
<path d="M92 120 l1.3 .8 l1.2 -1 l1.6 .4 l.9 1.3 l-.6 1.6 l.8 1.8 l-1.1 1.6 l-1.4 -.6 l-1.5 .9 l-.8 -1.9 l.9 -1.6 l-1.2 -1.4 z" fill="#f3d8d4" opacity="0.8"/>
<path d="M100.2 129.3 l1.3 .8 l1.4 -1 l1.8 .4 l.9 1.5 l-.6 1.6 l.8 2 l-1.1 1.6 l-1.6 -.6 l-1.5 .9 l-.8 -1.9 l.9 -1.8 l-1.2 -1.4 z" fill="#f6e4e0" opacity="0.8"/>
<path d="M99.8 120 l1.5 1 l1.4 -1.2 l1.5 1.2 l1.6 -1 l-.3 3.2 l-1.2 2.6 l-1.6 .8 l-1.6 -.8 l-1.1 -2.6 z" fill="#d8808c"/>
<path d="M92.1 128.9 l1.4 .9 l1.3 -.9 l1.4 .9 l1.5 -.9 l-.2 3 l-1.4 1.4 l-.1 1.6 l-2.2 0 l-.2 -1.6 l-1.4 -1.4 z" fill="#15130a"/>
<use href="#pinpath" fill="none" stroke="#000" stroke-opacity="0.45" stroke-width="2.6" filter="url(#blur1)"/>
<rect x="70" y="105" width="140" height="47" fill="url(#shade)"/>
</g>
<g fill="none" stroke="#1764a8" stroke-width="2.8" stroke-linecap="round" stroke-linejoin="round">
<path d="M87.5 93.7 C86.6 91.8 85.4 91 84.1 91 C81.8 91 80.8 93.6 80.8 96.95 C80.8 100.3 81.8 102.9 84.2 102.9 C85.6 102.9 86.8 102.1 87.6 100.4"/>
<path d="M92.1 89.9 H100 L92 102.8 H100.3" stroke-width="3.1"/>
<path d="M110.8 91.1 H105.1 V102.8 H111 M105.1 96.8 H109.9"/>
<path d="M123.6 93.7 C122.7 91.8 121.5 91 120.1 91 C117.6 91 116 93.6 116 96.95 C116 100.3 117.6 102.9 120.2 102.9 C121.7 102.9 122.9 102.1 123.7 100.4"/>
<path d="M129.7 91 V102.9 M138.4 91 V102.9 M129.7 96.8 H138.4"/>
<ellipse cx="155.35" cy="97" rx="4.05" ry="6.2"/>
<path d="M165.3 103.2 V90.9 H168.3 C170.9 90.9 172 92.4 172 94.4 C172 96.4 170.9 97.9 168.3 97.9 H165.3"/>
<path d="M183.9 90.9 H177.9 V103.1 H184.1 M177.9 96.9 H183"/>
<path d="M189.6 103.2 V90.9 L197.7 103.1 V90.8"/>
</g>
<g fill="none" stroke="#1764a8" stroke-width="3.0" stroke-linecap="round" stroke-linejoin="round">
<path d="M117.8 157 C118.2 154.8 119.6 153.8 121.2 153.8 C123.2 153.8 124.4 155.2 124.4 157 C124.4 159.5 121 162.5 117.6 166 H124.6"/>
<ellipse cx="133.25" cy="159.9" rx="3.6" ry="6.1"/>
<path d="M143.6 156.2 L146 153.9 V166"/>
<path d="M152.9 157 C153.3 154.8 154.7 153.8 156.3 153.8 C158.3 153.8 159.5 155.2 159.5 157 C159.5 159.5 156.1 162.5 152.7 166 H159.7"/>
</g>
</g>
</defs>
<use href="#logo"/>
<use href="#logo" transform="translate(447.4,1.3)"/>
</svg>
</div></body></html>
